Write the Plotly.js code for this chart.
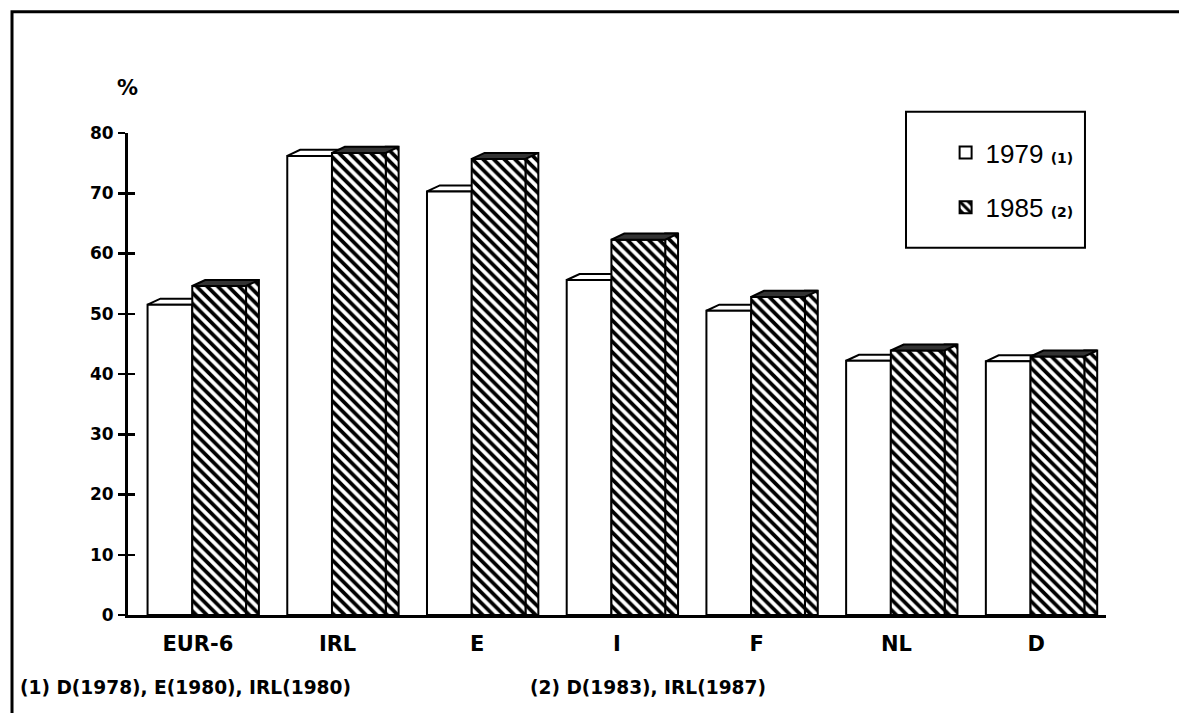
<!DOCTYPE html>
<html>
<head>
<meta charset="utf-8">
<script src="https://cdn.plot.ly/plotly-3.0.1.min.js"></script>
<style>
  html, body { margin: 0; padding: 0; background: #ffffff; }
  #chart { width: 1179px; height: 713px; }
</style>
</head>
<body>
<div id="chart"></div>
<script>
// ---- data ----
const categories = ['EUR-6', 'IRL', 'E', 'I', 'F', 'NL', 'D'];
const values1979 = [51.5, 76.2, 70.3, 55.6, 50.5, 42.2, 42.1];
const values1985 = [54.6, 76.7, 75.7, 62.3, 52.8, 43.9, 42.9];
const yTickValues = [0, 10, 20, 30, 40, 50, 60, 70, 80];
const seriesNames = ['1979', '1985'];
const seriesNotes = ['(1)', '(2)'];
const footnote1 = '(1) D(1978), E(1980), IRL(1980)';
const footnote2 = '(2) D(1983), IRL(1987)';

// ---- geometry / style (not data) ----
const idx = categories.map((_, i) => i);
const W1 = 0.32, O1 = -0.36;      // 1979 front face
const W2 = 0.385, O2 = -0.04;     // 1985 front face
const DX = 0.092, DY = 1.0;       // pseudo-3D depth
const LINE = { color: '#000', width: 2 };
const hatch = { shape: '\\', fgcolor: '#000', bgcolor: '#fff', size: 7.5, solidity: 0.5, fillmode: 'replace' };
const FONT = 'DejaVu Sans, Liberation Sans, sans-serif';

const legendName = (n, note) =>
  n + ' <span style="font-size:14px;font-family:DejaVu Sans"><b>' + note + '</b></span>';

const traces = [
  {
    type: 'bar', x: idx, y: values1979, width: W1, offset: O1,
    marker: { color: '#fff', line: LINE },
    name: legendName(seriesNames[0], seriesNotes[0]),
    legendgroup: 'a', hoverinfo: 'y'
  },
  {
    type: 'bar', x: idx, y: values1985.map(v => v + DY), width: DX, offset: O2 + W2,
    marker: { color: '#fff', line: LINE, pattern: hatch },
    showlegend: false, legendgroup: 'b', hoverinfo: 'skip'
  },
  {
    type: 'bar', x: idx, y: values1985, width: W2, offset: O2,
    marker: { color: '#fff', line: LINE, pattern: hatch },
    name: legendName(seriesNames[1], seriesNotes[1]),
    legendgroup: 'b', hoverinfo: 'y'
  },
  // invisible trace just to host the crossing inner ticks on y2
  {
    type: 'scatter', x: [idx[0]], y: [0], yaxis: 'y2', mode: 'markers',
    marker: { opacity: 0 }, showlegend: false, legendgroup: 'c', hoverinfo: 'skip'
  }
];

const para = (xl, xr, v) =>
  `M ${xl},${v} L ${xl + DX},${v + DY} L ${xr + DX},${v + DY} L ${xr},${v} Z`;

const shapes = [];
idx.forEach((i, k) => {
  shapes.push({
    type: 'path', xref: 'x', yref: 'y', layer: 'below',
    path: para(i + O1, i + O1 + W1, values1979[k]),
    fillcolor: '#fff', line: LINE
  });
  shapes.push({
    type: 'path', xref: 'x', yref: 'y', layer: 'above',
    path: para(i + O2, i + O2 + W2, values1985[k]),
    fillcolor: '#333', line: LINE
  });
});
// outer frame (left / top visible)
shapes.push({ type: 'rect', xref: 'paper', yref: 'paper', x0: -0.1186, x1: 1.3, y0: -0.5, y1: 1.2516,
  line: { color: '#000', width: 3 }, fillcolor: 'rgba(0,0,0,0)', layer: 'above' });
// legend box
shapes.push({ type: 'rect', xref: 'paper', yref: 'paper', x0: 0.7955, x1: 0.9785, y0: 0.762, y1: 1.044,
  line: { color: '#000', width: 2 }, fillcolor: 'rgba(0,0,0,0)', layer: 'above' });

const layout = {
  width: 1179, height: 713,
  margin: { l: 128, r: 73, t: 133.3, b: 97.7, pad: 0 },
  paper_bgcolor: '#fff', plot_bgcolor: '#fff',
  barmode: 'overlay',
  showlegend: true,
  legend: {
    x: 0.836, y: 1.008, xanchor: 'left', yanchor: 'top',
    bgcolor: 'rgba(0,0,0,0)', borderwidth: 0,
    font: { family: 'Liberation Sans, Arial, sans-serif', size: 26, color: '#000' },
    traceorder: 'grouped', tracegroupgap: 18, itemclick: false, itemdoubleclick: false
  },
  xaxis: {
    range: [-0.5, 6.5], tickvals: idx, ticktext: categories,
    showline: true, linecolor: '#000', linewidth: 3,
    ticks: '', showgrid: false, zeroline: false,
    ticklabelstandoff: 8,
    tickfont: { family: FONT, size: 21, color: '#000', weight: 'bold' }
  },
  yaxis: {
    range: [0, 80], tickvals: yTickValues,
    showline: true, linecolor: '#000', linewidth: 3,
    ticks: 'outside', ticklen: 7, tickwidth: 2.5, tickcolor: '#000',
    showgrid: false, zeroline: false, ticklabelstandoff: 1,
    tickfont: { family: FONT, size: 17, color: '#000', weight: 'bold' }
  },
  yaxis2: {
    overlaying: 'y', side: 'left', range: [0, 80], tickvals: yTickValues,
    ticks: 'inside', ticklen: 7, tickwidth: 2.5, tickcolor: '#000',
    showticklabels: false, showgrid: false, zeroline: false, showline: false
  },
  shapes: shapes,
  annotations: [
    { xref: 'paper', yref: 'paper', x: -0.001, y: 1.094, text: '<b>%</b>', showarrow: false,
      xanchor: 'center', yanchor: 'middle', font: { family: FONT, size: 21, color: '#000' } },
    { xref: 'paper', yref: 'paper', x: -0.1125, y: -0.150, text: '<b>' + footnote1 + '</b>', showarrow: false,
      xanchor: 'left', yanchor: 'middle', font: { family: FONT, size: 18.6, color: '#000' } },
    { xref: 'paper', yref: 'paper', x: 0.409, y: -0.150, text: '<b>' + footnote2 + '</b>', showarrow: false,
      xanchor: 'left', yanchor: 'middle', font: { family: FONT, size: 18.6, color: '#000' } }
  ]
};

Plotly.newPlot('chart', traces, layout, { displayModeBar: false, staticPlot: true });
</script>
</body>
</html>
